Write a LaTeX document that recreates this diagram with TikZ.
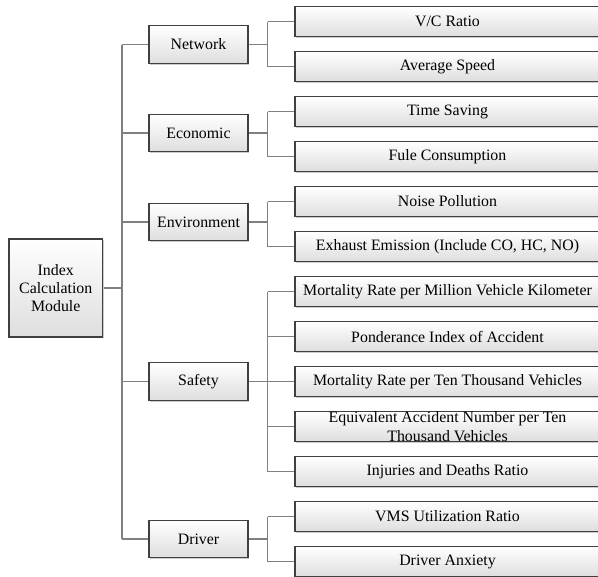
\documentclass[tikz,border=0pt]{standalone}
\usepackage{fontspec}
\setmainfont{Liberation Serif}
\usetikzlibrary{shadows,backgrounds}
\definecolor{conncol}{HTML}{808080}
\definecolor{boxline}{HTML}{404040}
\definecolor{boxbottom}{HTML}{DEDEDE}
\begin{document}
\begin{tikzpicture}[x=0.75pt,y=-0.75pt,
  box/.style={draw=boxline,line width=0.8pt,rectangle,top color=white,bottom color=boxbottom,
    drop shadow={shadow xshift=1pt,shadow yshift=-1pt,fill=gray!40,opacity=1},
    font=\fontsize{11.9}{13.8}\selectfont,inner sep=0pt},
  rootbox/.style={box,minimum width=70.1pt,minimum height=73.5pt,align=center},
  midbox/.style={box,minimum width=74.25pt,minimum height=28.1pt},
  leafbox/.style={box,minimum width=228.75pt,minimum height=22.1pt},
  conn/.style={draw=conncol,line width=0.9pt}]
\useasboundingbox (0,0) rectangle (598,576);
\node[rootbox] (root) at (55.75,288) {Index\\Calculation\\Module};
\node[midbox] (net) at (198.5,44.5) {Network};
\node[midbox] (eco) at (198.5,133) {Economic};
\node[midbox] (env) at (198.5,222) {Environment};
\node[midbox] (saf) at (198.5,381.5) {Safety};
\node[midbox] (drv) at (198.5,539) {Driver};
\node[leafbox] (l1) at (447.5,21.5) {V/C Ratio};
\node[leafbox] (l2) at (447.5,66.5) {Average Speed};
\node[leafbox] (l3) at (447.5,111.5) {Time Saving};
\node[leafbox] (l4) at (447.5,156.5) {Fule Consumption};
\node[leafbox] (l5) at (447.5,201.5) {Noise Pollution};
\node[leafbox] (l6) at (447.5,246.5) {Exhaust Emission (Include CO, HC, NO)};
\node[leafbox] (l7) at (447.5,291.5) {Mortality Rate per Million Vehicle Kilometer};
\node[leafbox] (l8) at (447.5,336.5) {Ponderance Index of Accident};
\node[leafbox] (l9) at (447.5,381.5) {Mortality Rate per Ten Thousand Vehicles};
\node[leafbox,label={[align=center,font=\fontsize{11.9}{13.7}\selectfont,inner sep=0pt]center:Equivalent Accident Number per Ten\\Thousand Vehicles}] (l10) at (447.5,426.5) {};
\node[leafbox] (l11) at (447.5,471.5) {Injuries and Deaths Ratio};
\node[leafbox] (l12) at (447.5,516.5) {VMS Utilization Ratio};
\node[leafbox] (l13) at (447.5,561.5) {Driver Anxiety};
\coordinate (tk) at (122,0);
\coordinate (bus) at (267.5,0);
\begin{scope}[on background layer]
\draw[conn] (root.east) -- (root.east -| tk);
\draw[conn] (net.west -| tk) -- (drv.west -| tk);
\foreach \m in {net,eco,env,saf,drv}{\draw[conn] (\m.west -| tk) -- (\m.west);}
\draw[conn] (net.east) -- (net.east -| bus);
\draw[conn] (l1.west -| bus) -- (l2.west -| bus);
\draw[conn] (eco.east) -- (eco.east -| bus);
\draw[conn] (l3.west -| bus) -- (l4.west -| bus);
\draw[conn] (env.east) -- (env.east -| bus);
\draw[conn] (l5.west -| bus) -- (l6.west -| bus);
\draw[conn] (saf.east) -- (saf.east -| bus);
\draw[conn] (l7.west -| bus) -- (l11.west -| bus);
\draw[conn] (drv.east) -- (drv.east -| bus);
\draw[conn] (l12.west -| bus) -- (l13.west -| bus);
\foreach \c in {l1,l2,l3,l4,l5,l6,l7,l8,l9,l10,l11,l12,l13}{\draw[conn] (\c.west -| bus) -- (\c.west);}
\end{scope}
\end{tikzpicture}
\end{document}
